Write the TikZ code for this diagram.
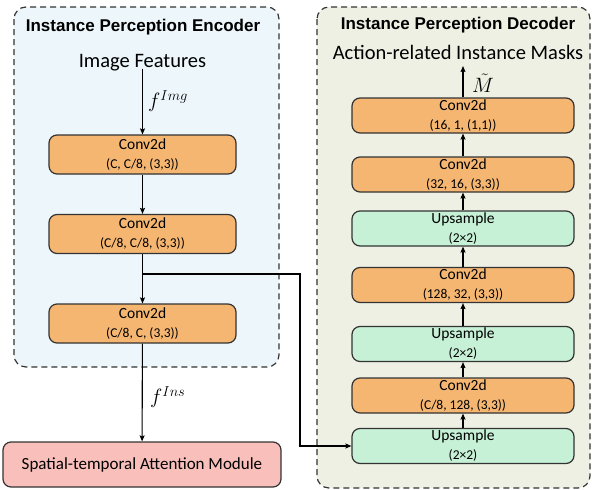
\documentclass[tikz,border=0pt]{standalone}
\usepackage{fontspec}
\setmainfont{Carlito}
\newfontfamily\titlefont{Liberation Sans}
\usetikzlibrary{arrows.meta}
\definecolor{encbg}{HTML}{EDF6FA}
\definecolor{decbg}{HTML}{EEF0E4}
\definecolor{orangebox}{HTML}{F5B672}
\definecolor{greenbox}{HTML}{C6F1D6}
\definecolor{pinkbox}{HTML}{F9C0BB}
\definecolor{edge}{HTML}{333333}
\newcommand\boxsub[1]{{\fontsize{13.5}{16}\selectfont #1}}
\begin{document}
\begin{tikzpicture}[x=1pt,y=-1pt,
  container/.style={draw=edge, line width=1.2pt, dash pattern=on 6pt off 4pt, rounded corners=12pt},
  blk/.style={draw=edge, line width=1.2pt, rounded corners=8pt, inner sep=0pt, align=center,
    font=\fontsize{15.5}{19}\selectfont},
  encbox/.style={blk, fill=orangebox, minimum width=187pt, minimum height=39pt},
  convbox/.style={blk, fill=orangebox, minimum width=222pt, minimum height=35pt},
  upbox/.style={blk, fill=greenbox, minimum width=222pt, minimum height=35pt},
  arr/.style={-{Stealth[length=6pt,width=5pt,inset=1pt]}, line width=1.1pt, black},
  ttl/.style={font=\titlefont\bfseries\fontsize{17}{20}\selectfont},
  lbl/.style={inner sep=0pt, font=\fontsize{20.5}{24}\selectfont},
  mathlbl/.style={anchor=west, inner sep=0pt, font=\fontsize{20}{24}\selectfont}
]
\useasboundingbox (0,0) rectangle (592,490);
% containers
\draw[container, fill=encbg] (14,7) rectangle (279,367);
\draw[container, fill=decbg] (317,7) rectangle (590,488);
\node[ttl] (enct) at (143,27) {Instance Perception Encoder};
\node[ttl] (dect) at (458,25) {Instance Perception Decoder};

% encoder
\node[lbl] (img) at (142.5,63) {Image Features};
\node[encbox] (e1) at (142.5,154.5) {Conv2d\\\boxsub{(C, C/8, (3,3))}};
\node[encbox] (e2) at (142.5,234) {Conv2d\\\boxsub{(C/8, C/8, (3,3))}};
\node[encbox] (e3) at (142.5,323.5) {Conv2d\\\boxsub{(C/8, C, (3,3))}};
\node[blk, fill=pinkbox, minimum width=278pt, minimum height=45pt, font=\fontsize{17}{20}\selectfont] (sam) at (142,464.5) {Spatial-temporal Attention Module};

\draw[arr] ([yshift=3pt]img.south) -- (e1.north);
\node[mathlbl] (fimg) at (148,101) {$f^{Img}$};
\draw[arr] (e1) -- (e2);
\draw[arr] (e2) -- (e3);
\draw[arr] (e3) -- (sam);
\node[mathlbl] (fins) at (150,397) {$f^{Ins}$};

% decoder
\node[upbox] (d0) at (463,446) {Upsample\\\boxsub{(2×2)}};
\node[convbox] (d1) at (463,395.5) {Conv2d\\\boxsub{(C/8, 128, (3,3))}};
\node[upbox] (d2) at (463,344) {Upsample\\\boxsub{(2×2)}};
\node[convbox] (d3) at (463,285) {Conv2d\\\boxsub{(128, 32, (3,3))}};
\node[upbox] (d4) at (463,228.5) {Upsample\\\boxsub{(2×2)}};
\node[convbox] (d5) at (463,174.5) {Conv2d\\\boxsub{(32, 16, (3,3))}};
\node[convbox] (d6) at (463,115.5) {Conv2d\\\boxsub{(16, 1, (1,1))}};
\node[lbl] (masks) at (458,52) {Action-related Instance Masks};
\coordinate (mtop) at (463,66);
\node[mathlbl] (mt) at (472,83) {$\tilde{M}$};

\draw[arr] (d0) -- (d1);
\draw[arr] (d1) -- (d2);
\draw[arr] (d2) -- (d3);
\draw[arr] (d3) -- (d4);
\draw[arr] (d4) -- (d5);
\draw[arr] (d5) -- (d6);
\draw[arr] (d6.north) -- (mtop);

% branch
\coordinate (br) at (142.5,274);
\coordinate (bc) at (300,274);
\draw[arr] (br) -- (bc) |- (d0.west);
\end{tikzpicture}
\end{document}
